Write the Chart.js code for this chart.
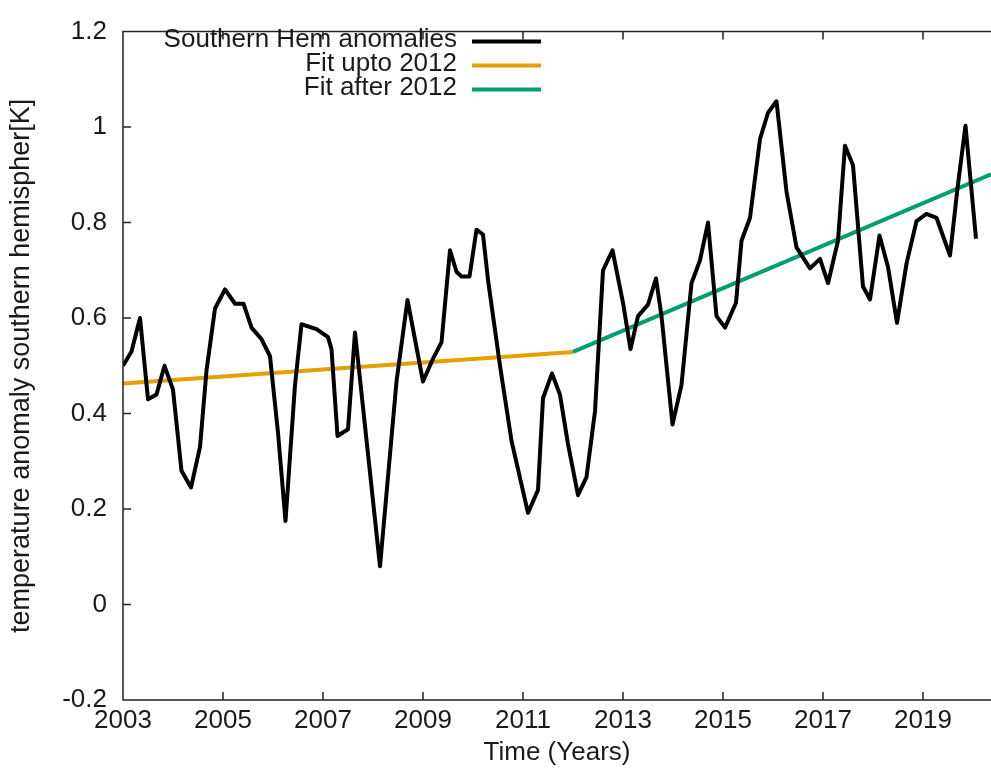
<!DOCTYPE html>
<html>
<head>
<meta charset="utf-8">
<script src="https://cdn.jsdelivr.net/npm/chart.js@4.4.1/dist/chart.umd.min.js"></script>
<style>
  html, body { margin: 0; padding: 0; background: #fff; }
  #wrap { width: 991px; height: 772px; }
</style>
</head>
<body>
<div id="wrap"><canvas id="anomalyChart"></canvas></div>
<script>
// Southern hemisphere temperature anomalies (K), roughly bimonthly
const anomalyYears = [
  2003.0, 2003.17, 2003.34, 2003.5, 2003.67, 2003.83, 2004.0, 2004.17, 2004.36, 2004.54,
  2004.67, 2004.84, 2005.04, 2005.24, 2005.41, 2005.57, 2005.77, 2005.94, 2006.1, 2006.25,
  2006.44, 2006.57, 2006.87, 2007.1, 2007.17, 2007.29, 2007.5, 2007.64, 2008.14, 2008.47,
  2008.69, 2009.0, 2009.2, 2009.37, 2009.46, 2009.54, 2009.67, 2009.77, 2009.93, 2010.07,
  2010.2, 2010.3, 2010.54, 2010.77, 2011.1, 2011.3, 2011.4, 2011.58, 2011.74, 2011.9,
  2012.1, 2012.27, 2012.44, 2012.6, 2012.79, 2013.0, 2013.15, 2013.3, 2013.5, 2013.66,
  2013.77, 2013.99, 2014.17, 2014.37, 2014.54, 2014.7, 2014.87, 2015.04, 2015.26, 2015.37,
  2015.54, 2015.74, 2015.9, 2016.07, 2016.27, 2016.47, 2016.74, 2016.94, 2017.1, 2017.3,
  2017.44, 2017.6, 2017.8, 2017.94, 2018.13, 2018.3, 2018.48, 2018.67, 2018.87, 2019.07,
  2019.27, 2019.54, 2019.69, 2019.85, 2020.06
];
const anomalyValues = [
  0.50, 0.53, 0.60, 0.43, 0.44, 0.50, 0.45, 0.28, 0.245, 0.33,
  0.49, 0.62, 0.66, 0.63, 0.63, 0.58, 0.556, 0.52, 0.36, 0.175,
  0.46, 0.587, 0.577, 0.56, 0.535, 0.353, 0.367, 0.57, 0.08, 0.467,
  0.638, 0.467, 0.515, 0.549, 0.652, 0.742, 0.697, 0.687, 0.687, 0.785,
  0.775, 0.68, 0.50, 0.343, 0.192, 0.24, 0.432, 0.484, 0.439, 0.336,
  0.229, 0.267, 0.405, 0.70, 0.742, 0.632, 0.535, 0.604, 0.628, 0.683,
  0.604, 0.377, 0.46, 0.673, 0.721, 0.80, 0.604, 0.58, 0.632, 0.762,
  0.81, 0.975, 1.03, 1.054, 0.865, 0.748, 0.704, 0.724, 0.673, 0.762,
  0.961, 0.92, 0.666, 0.639, 0.773, 0.707, 0.59, 0.714, 0.803, 0.818,
  0.81, 0.731, 0.872, 1.003, 0.766
];

// linear fits before and after 2012
const fitBeforeYears = [2003, 2012];
const fitBeforeValues = [0.463, 0.529];
const fitAfterYears = [2012, 2020.36];
const fitAfterValues = [0.529, 0.901];

const xTickValues = [2003, 2005, 2007, 2009, 2011, 2013, 2015, 2017, 2019];
const yTickValues = [-0.2, 0, 0.2, 0.4, 0.6, 0.8, 1.0, 1.2];

const FONT = '"Liberation Sans", Arial, sans-serif';
const TEXT = '#1a1a1a';

const toPoints = (xs, ys) => xs.map((x, i) => ({x: x, y: ys[i]}));

// gnuplot-like frame: border on three sides with inward ticks, mirrored on top
const framePlugin = {
  id: 'frame',
  afterDatasetsDraw(chart) {
    const {ctx, chartArea: a, scales: {x, y}} = chart;
    ctx.save();
    ctx.strokeStyle = '#222';
    ctx.lineWidth = 1.5;
    ctx.beginPath();
    ctx.moveTo(a.right + 2, a.top);
    ctx.lineTo(a.left, a.top);
    ctx.lineTo(a.left, a.bottom);
    ctx.lineTo(a.right + 2, a.bottom);
    xTickValues.forEach(v => {
      const px = x.getPixelForValue(v);
      ctx.moveTo(px, a.bottom);
      ctx.lineTo(px, a.bottom - 8);
      ctx.moveTo(px, a.top);
      ctx.lineTo(px, a.top + 8);
    });
    yTickValues.forEach(v => {
      const py = y.getPixelForValue(v);
      ctx.moveTo(a.left, py);
      ctx.lineTo(a.left + 8, py);
    });
    ctx.stroke();
    ctx.restore();
  }
};

// key in the top-left: right-aligned titles followed by a line sample
const keyPlugin = {
  id: 'key',
  afterDraw(chart) {
    const {ctx} = chart;
    ctx.save();
    ctx.font = '26px ' + FONT;
    ctx.textAlign = 'right';
    ctx.textBaseline = 'alphabetic';
    chart.data.datasets.forEach((ds, i) => {
      const base = 46.5 + i * 24;
      ctx.fillStyle = TEXT;
      ctx.fillText(ds.label, 457, base);
      ctx.strokeStyle = ds.borderColor;
      ctx.lineWidth = 4;
      ctx.beginPath();
      ctx.moveTo(472, base - 5);
      ctx.lineTo(541, base - 5);
      ctx.stroke();
    });
    ctx.restore();
  }
};

new Chart(document.getElementById('anomalyChart'), {
  type: 'line',
  data: {
    datasets: [
      {
        label: 'Southern Hem anomalies',
        data: toPoints(anomalyYears, anomalyValues),
        borderColor: '#000000',
        borderWidth: 4,
        borderJoinStyle: 'round',
        pointRadius: 0,
        tension: 0
      },
      {
        label: 'Fit upto 2012',
        data: toPoints(fitBeforeYears, fitBeforeValues),
        borderColor: '#E69F00',
        borderWidth: 4,
        pointRadius: 0,
        tension: 0
      },
      {
        label: 'Fit after 2012',
        data: toPoints(fitAfterYears, fitAfterValues),
        borderColor: '#009E73',
        borderWidth: 4,
        pointRadius: 0,
        tension: 0
      }
    ]
  },
  options: {
    responsive: true,
    maintainAspectRatio: false,
    animation: false,
    devicePixelRatio: 1,
    layout: { padding: { top: 22, right: 0, left: 0, bottom: 0 } },
    plugins: {
      legend: { display: false },
      tooltip: { enabled: false }
    },
    scales: {
      x: {
        type: 'linear',
        position: 'bottom',
        min: 2003,
        max: 2020.36,
        grid: { display: false, drawTicks: false },
        border: { display: false },
        afterBuildTicks: s => { s.ticks = xTickValues.map(v => ({value: v})); },
        afterFit: s => { s.height = 72; },
        ticks: {
          autoSkip: false,
          maxRotation: 0,
          padding: 5,
          color: TEXT,
          font: { family: FONT, size: 26 },
          callback: v => String(v)
        },
        title: {
          display: true,
          text: 'Time (Years)',
          color: TEXT,
          font: { family: FONT, size: 26, lineHeight: 1 },
          padding: { top: 0, bottom: 6 }
        }
      },
      y: {
        type: 'linear',
        min: -0.2,
        max: 1.2,
        grid: { display: false, drawTicks: false },
        border: { display: false },
        afterBuildTicks: s => { s.ticks = yTickValues.map(v => ({value: v})); },
        afterFit: s => { s.width = 123; },
        ticks: {
          padding: 16,
          color: TEXT,
          font: { family: FONT, size: 26 },
          callback: v => String(Number(v.toFixed(1)))
        },
        title: {
          display: true,
          text: 'temperature anomaly southern hemispher[K]',
          color: TEXT,
          font: { family: FONT, size: 27, lineHeight: 1 },
          padding: { top: 8, bottom: 0 }
        }
      }
    }
  },
  plugins: [framePlugin, keyPlugin]
});
</script>
</body>
</html>
